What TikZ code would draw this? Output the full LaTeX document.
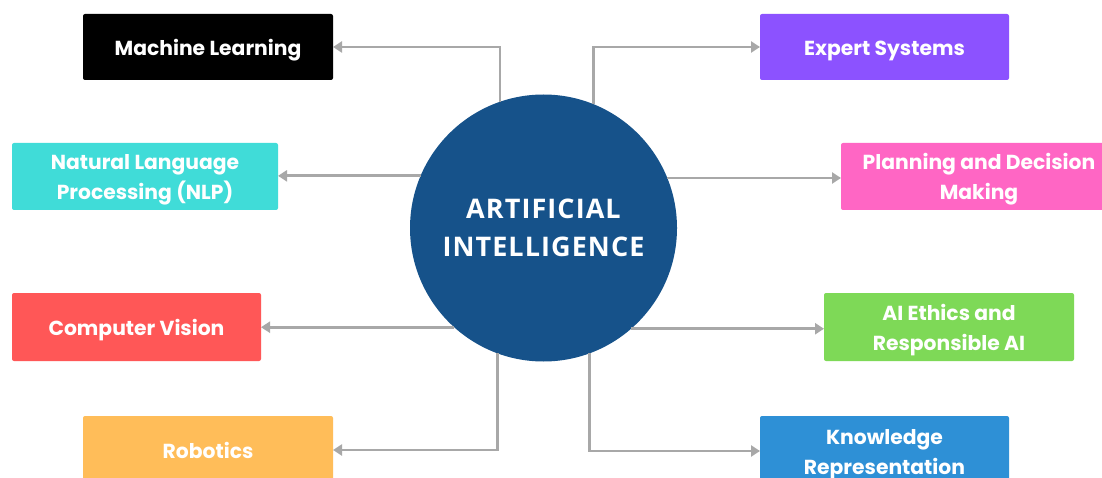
\documentclass[tikz,border=0pt]{standalone}
\usepackage{fontspec}
\setmainfont{Poppins}[UprightFont=*-Bold,BoldFont=*-Bold]
\newfontfamily\centerfont{Open Sans}[UprightFont=* Bold,LetterSpace=4]
\usetikzlibrary{arrows.meta}
\definecolor{cML}{HTML}{000000}
\definecolor{cES}{HTML}{8C52FF}
\definecolor{cNLP}{HTML}{40DCD8}
\definecolor{cPDM}{HTML}{FF66C4}
\definecolor{cCV}{HTML}{FF5757}
\definecolor{cETH}{HTML}{7ED957}
\definecolor{cRB}{HTML}{FFBD59}
\definecolor{cKR}{HTML}{2E90D6}
\definecolor{cAI}{HTML}{16528A}
\definecolor{cLine}{HTML}{A8A8A8}
\newcommand\tlines[1]{\raisebox{-2.5pt}[\height][\depth]{\begin{tabular}{@{}c@{}}#1\end{tabular}}}
\tikzset{
  topic/.style={rectangle, rounded corners=2pt, text=white,
    font=\fontsize{20.3}{30}\selectfont, inner sep=0pt, outer sep=0pt},
  conn/.style={draw=cLine, line width=2.8pt,
    -{Triangle[length=9pt,width=11pt]}},
}
\begin{document}
\begin{tikzpicture}[x=1pt,y=1pt]
\useasboundingbox (0,0) rectangle (1102,477);
\fill[white] (0,0) rectangle (1102,477);
\node[circle, fill=cAI, minimum size=267pt, inner sep=0pt, outer sep=0pt,
  text=white, align=center, font=\centerfont\fontsize{27}{37.5}\selectfont]
  (ai) at (543.5,249) {ARTIFICIAL\\INTELLIGENCE};
\node[topic, fill=cML, minimum width=250pt, minimum height=66pt] (ml) at (208,430) {\tlines{Machine Learning}};
\node[topic, fill=cES, minimum width=249pt, minimum height=66pt] (es) at (884.5,430) {\tlines{Expert Systems}};
\node[topic, fill=cNLP, minimum width=266pt, minimum height=67pt] (nlp) at (145,300.5) {\tlines{Natural Language\\Processing (NLP)}};
\node[topic, fill=cPDM, minimum width=276pt, minimum height=67pt] (pdm) at (979,300.5) {\tlines{Planning and Decision\\Making}};
\node[topic, fill=cCV, minimum width=249pt, minimum height=68pt] (cv) at (136.5,150) {\tlines{Computer Vision}};
\node[topic, fill=cETH, minimum width=250pt, minimum height=68pt] (eth) at (949,150) {\tlines{AI Ethics and\\Responsible AI}};
\node[topic, fill=cRB, minimum width=250pt, minimum height=68pt] (rb) at (208,27) {\tlines{Robotics}};
\node[topic, fill=cKR, minimum width=249pt, minimum height=70pt] (kr) at (884.5,26) {\tlines{Knowledge\\Representation}};
\draw[conn] (ai.109.5) |- (ml.east);
\draw[conn] (ai.68.2) |- (es.west);
\draw[conn] (ai.157.3) -- (ai.157.3 -| nlp.east);
\draw[conn] (ai.22.7) -- (ai.22.7 -| pdm.west);
\draw[conn] (ai.228.2) -- (ai.228.2 -| cv.east);
\draw[conn] (ai.311.8) -- (ai.311.8 -| eth.west);
\draw[conn] (ai.250.5) |- (rb.east);
\draw[conn] (ai.290.8) |- (kr.west);
\end{tikzpicture}
\end{document}
